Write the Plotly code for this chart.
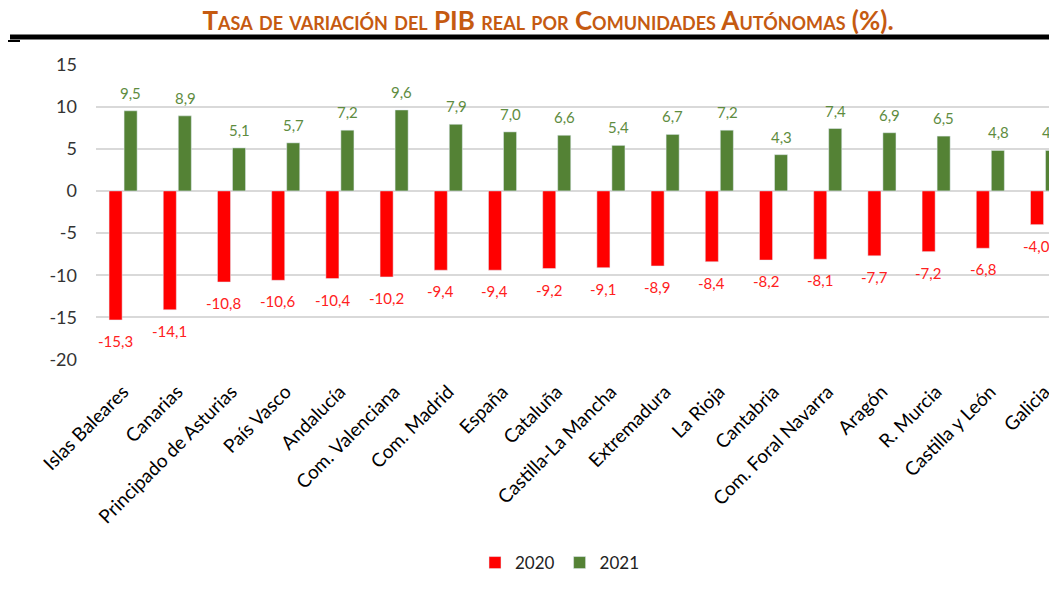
import plotly.graph_objects as go

categories = ["Islas Baleares", "Canarias", "Principado de Asturias", "País Vasco", "Andalucía",
              "Com. Valenciana", "Com. Madrid", "España", "Cataluña", "Castilla-La Mancha",
              "Extremadura", "La Rioja", "Cantabria", "Com. Foral Navarra", "Aragón",
              "R. Murcia", "Castilla y León", "Galicia"]
v2020 = [-15.3, -14.1, -10.8, -10.6, -10.4, -10.2, -9.4, -9.4, -9.2, -9.1, -8.9, -8.4, -8.2, -8.1, -7.7, -7.2, -6.8, -4.0]
v2021 = [9.5, 8.9, 5.1, 5.7, 7.2, 9.6, 7.9, 7.0, 6.6, 5.4, 6.7, 7.2, 4.3, 7.4, 6.9, 6.5, 4.8, 4.8]
ytick_vals = [-20, -15, -10, -5, 0, 5, 10, 15]
ytick_text = ["-20", "-15", "-10", "-5", "0", "5", "10", "15"]

FONT = "Lato"
RED = "#FF0000"
GREEN = "#548235"

# page has an 8px body margin: figure coordinates = screen coordinates - 8
W, H = 1057, 593
L, T, B, R = 88, 56, 241, 8
PH = H - T - B
PW = W - L - R

fig = go.Figure()
fig.add_trace(go.Bar(name="2020", x=list(range(len(categories))), y=v2020, marker_color=RED))
fig.add_trace(go.Bar(name="2021", x=list(range(len(categories))), y=v2021, marker_color=GREEN))

def fmt(v):
    return f"{v:.1f}".replace(".", ",")

annotations = []
off = 0.143
for i, (a, b) in enumerate(zip(v2020, v2021)):
    annotations.append(dict(x=i - off, y=a, xref="x", yref="y", text=fmt(a), showarrow=False,
                            yshift=-21, font=dict(family=FONT, size=15, color="#FF2020")))
    annotations.append(dict(x=i + off, y=b, xref="x", yref="y", text=fmt(b), showarrow=False,
                            yshift=18, font=dict(family=FONT, size=15, color="#5E8C3F")))

line_y = (H - B - (37 - 8)) / PH
stub_y = (H - B - (41 - 8)) / PH
fig.update_layout(
    width=W, height=H,
    margin=dict(l=L, r=R, t=T, b=B),
    plot_bgcolor="white", paper_bgcolor="white",
    barmode="group", bargap=0.446, bargroupgap=0.13,
    title=dict(text="<b>Tasa de variación del PIB real por Comunidades Autónomas (%).</b>",
               x=(548 - 8) / W, xref="container", xanchor="center",
               y=1 - (21 - 8) / H, yref="container", yanchor="middle",
               font=dict(family=FONT, size=26, color="#C55A11", variant="small-caps")),
    showlegend=True,
    legend=dict(orientation="h", xref="container", yref="container", x=(560 - 8) / W, xanchor="center",
                y=1 - (563 - 8) / H, yanchor="middle", font=dict(family=FONT, size=17, color="#222"),
                traceorder="normal"),
    annotations=annotations,
    shapes=[
        dict(type="line", xref="paper", yref="paper", x0=(2 - L) / PW, x1=1.05,
             y0=line_y, y1=line_y, line=dict(color="black", width=5)),
        dict(type="line", xref="paper", yref="paper", x0=(0 - L) / PW, x1=(12 - L) / PW,
             y0=stub_y, y1=stub_y, line=dict(color="black", width=2)),
    ],
)
fig.update_xaxes(tickmode="array", tickvals=list(range(len(categories))), ticktext=categories,
                 range=[-0.5, 17.23], tickangle=-45, showgrid=False, zeroline=False,
                 tickfont=dict(family=FONT, size=19, color="black"), ticklabelstandoff=16)
fig.update_yaxes(range=[-20.05, 15.05], tickmode="array", tickvals=ytick_vals, ticktext=ytick_text,
                 showgrid=True, gridcolor="#D9D9D9", gridwidth=1.5,
                 zeroline=True, zerolinecolor="#D9D9D9", zerolinewidth=1.5,
                 tickfont=dict(family=FONT, size=18, color="#333"), ticklabelstandoff=18)

fig.write_html("out.html")
